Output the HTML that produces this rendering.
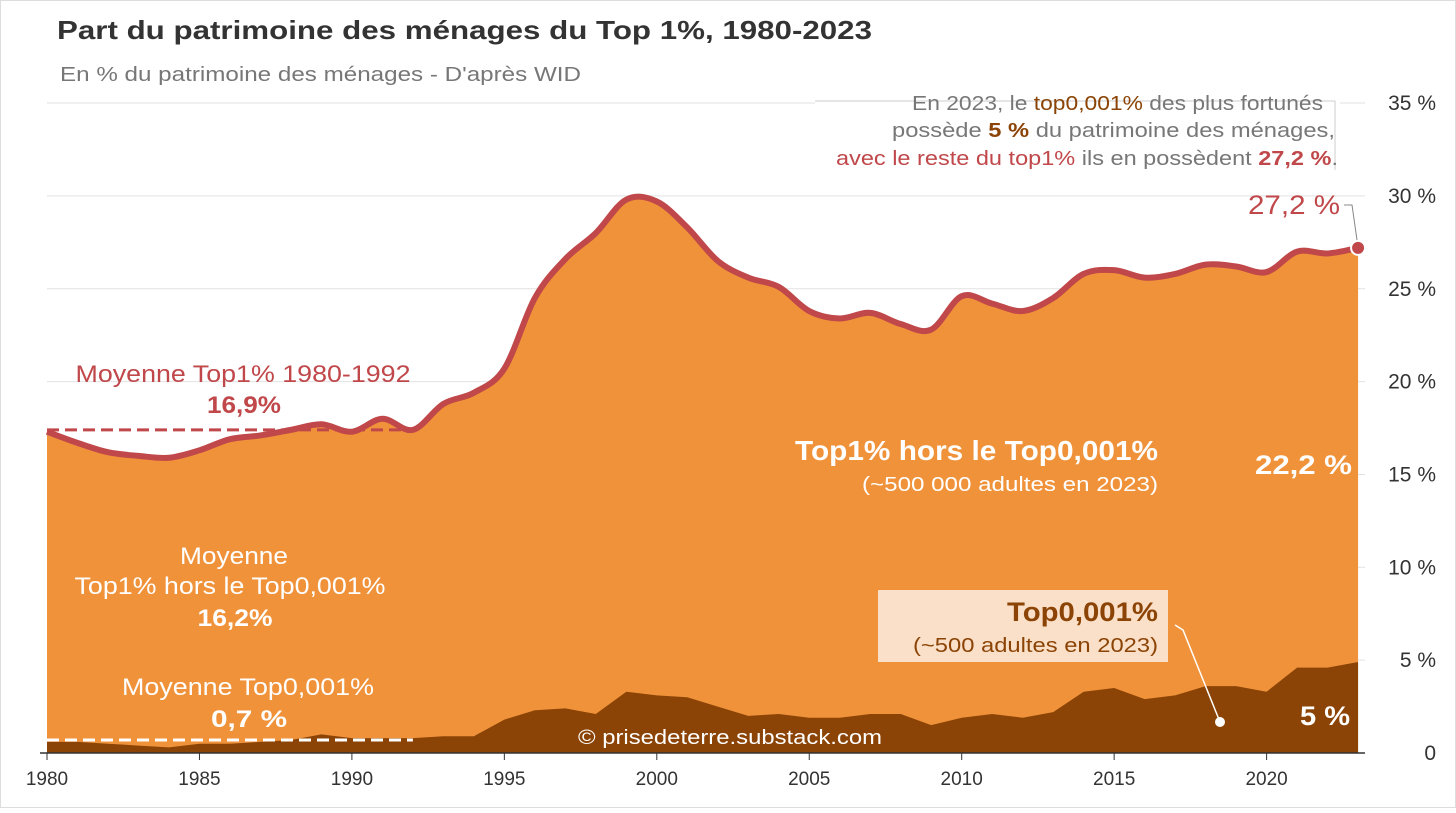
<!DOCTYPE html>
<html><head><meta charset="utf-8">
<style>
html,body{margin:0;padding:0;background:#fff;}
body{width:1456px;height:808px;overflow:hidden;font-family:"Liberation Sans",sans-serif;}
svg text{font-family:"Liberation Sans",sans-serif;}
</style></head>
<body>
<svg id="chart" width="1456" height="808">
<rect x="0.5" y="0.5" width="1455" height="807" fill="#fff" stroke="#ddd"/>
<text x="57" y="39" font-size="26" font-weight="bold" fill="#333" textLength="815" lengthAdjust="spacingAndGlyphs">Part du patrimoine des ménages du Top 1%, 1980-2023</text>
<text x="60" y="81" font-size="20" fill="#777" textLength="521" lengthAdjust="spacingAndGlyphs">En % du patrimoine des ménages - D'après WID</text>
<g id="grid"></g>
<g id="areas"></g>
<g id="axes"></g>
<g id="ann"></g>
</svg>
<script>
const years = [1980,1981,1982,1983,1984,1985,1986,1987,1988,1989,1990,1991,1992,1993,1994,1995,1996,1997,1998,1999,2000,2001,2002,2003,2004,2005,2006,2007,2008,2009,2010,2011,2012,2013,2014,2015,2016,2017,2018,2019,2020,2021,2022,2023];
const top1 = [17.3,16.7,16.2,16.0,15.9,16.3,16.9,17.1,17.4,17.7,17.3,18.0,17.4,18.8,19.4,20.7,24.5,26.6,28.0,29.8,29.7,28.3,26.5,25.6,25.1,23.8,23.4,23.7,23.1,22.8,24.6,24.2,23.8,24.5,25.8,26.0,25.6,25.8,26.3,26.2,25.9,27.0,26.9,27.2];
const top0001 = [0.6,0.6,0.5,0.4,0.3,0.5,0.5,0.6,0.7,1.0,0.8,0.8,0.8,0.9,0.9,1.8,2.3,2.4,2.1,3.3,3.1,3.0,2.5,2.0,2.1,1.9,1.9,2.1,2.1,1.5,1.9,2.1,1.9,2.2,3.3,3.5,2.9,3.1,3.6,3.6,3.3,4.6,4.6,4.9];
const yTicks = [0,5,10,15,20,25,30,35];
const xTicks = [1980,1985,1990,1995,2000,2005,2010,2015,2020];
const avgTop1 = 17.4, avgTop0001 = 0.7;

const NS="http://www.w3.org/2000/svg";
const X = y => 47 + (y-1980)*30.49;
const Y = v => 753 - v*18.57;
function mk(tag, attrs, parent, txt){const e=document.createElementNS(NS,tag);for(const k in attrs)e.setAttribute(k,attrs[k]);if(txt!==undefined)e.textContent=txt;document.getElementById(parent).appendChild(e);return e;}

yTicks.forEach(t=>{
  if(t>0){const g=mk('line',{x1:47,x2:1365,y1:Y(t),y2:Y(t),stroke:'#e2e2e2','stroke-width':1},'grid');
  
  }
  const l=mk('text',{x:1436,y:Y(t)+7,'font-size':21,'text-anchor':'end',fill:'#333'},'axes',t===0?'0':t+' %');
  
  
});
xTicks.forEach(t=>{
  const l=mk('text',{x:X(t),y:785,'font-size':19,'text-anchor':'middle',fill:'#333'},'axes',String(t));
  
  
  const tk=mk('line',{x1:X(t),x2:X(t),y1:753,y2:760,stroke:'#333'},'axes');
  
  
});
const ax=mk('line',{x1:40,x2:1365,y1:753,y2:753,stroke:'#333','stroke-width':1.5},'axes');



const pts = years.map((y,i)=>[X(y),Y(top1[i])]);
function smooth(p){let d=`M${p[0][0]},${p[0][1]}`;for(let i=0;i<p.length-1;i++){const p0=p[i-1]||p[i],p1=p[i],p2=p[i+1],p3=p[i+2]||p2;
 d+=` C${p1[0]+(p2[0]-p0[0])/6},${p1[1]+(p2[1]-p0[1])/6} ${p2[0]-(p3[0]-p1[0])/6},${p2[1]-(p3[1]-p1[1])/6} ${p2[0]},${p2[1]}`;}return d;}
const line=smooth(pts);
const a1=mk('path',{d:line+` L${X(2023)},753 L${X(1980)},753 Z`,fill:'#f0923a'},'areas');


let d2=`M${X(1980)},753`;years.forEach((y,i)=>d2+=` L${X(y)},${Y(top0001[i])}`);d2+=` L${X(2023)},753 Z`;
const a2=mk('path',{d:d2,fill:'#8b4406'},'areas');


const ln=mk('path',{d:line,fill:'none',stroke:'#c0474a','stroke-width':6,'stroke-linejoin':'round'},'areas');


const dot=mk('circle',{cx:X(2023),cy:Y(top1[43]),r:7,fill:'#c0474a',stroke:'#fff','stroke-width':2},'areas');



const av1=mk('line',{x1:X(1980),x2:X(1992),y1:Y(avgTop1),y2:Y(avgTop1),stroke:'#c0474a','stroke-width':3,'stroke-dasharray':'12 6'},'ann');


const av2=mk('line',{x1:X(1980),x2:X(1992),y1:Y(avgTop0001),y2:Y(avgTop0001),stroke:'#fff','stroke-width':3,'stroke-dasharray':'12 6'},'ann');


</script>
<svg width="1456" height="808" style="position:absolute;left:0;top:0">
<text x="243" y="382" font-size="24" fill="#c0474a" text-anchor="middle" textLength="335" lengthAdjust="spacingAndGlyphs">Moyenne Top1% 1980-1992</text>
<text x="244" y="413" font-size="24" font-weight="bold" fill="#c0474a" text-anchor="middle" textLength="74" lengthAdjust="spacingAndGlyphs">16,9%</text>
<text x="234" y="564" font-size="24" fill="#fff" text-anchor="middle" textLength="108" lengthAdjust="spacingAndGlyphs">Moyenne</text>
<text x="230" y="594" font-size="24" fill="#fff" text-anchor="middle" textLength="311" lengthAdjust="spacingAndGlyphs">Top1% hors le Top0,001%</text>
<text x="235" y="626" font-size="24" font-weight="bold" fill="#fff" text-anchor="middle" textLength="75" lengthAdjust="spacingAndGlyphs">16,2%</text>
<text x="248" y="695" font-size="24" fill="#fff" text-anchor="middle" textLength="252" lengthAdjust="spacingAndGlyphs">Moyenne Top0,001%</text>
<text x="249" y="727" font-size="24" font-weight="bold" fill="#fff" text-anchor="middle" textLength="76" lengthAdjust="spacingAndGlyphs">0,7 %</text>
<text x="1158" y="460" font-size="28" font-weight="bold" fill="#fff" text-anchor="end" textLength="363" lengthAdjust="spacingAndGlyphs">Top1% hors le Top0,001%</text>
<text x="1158" y="491" font-size="20" fill="#fff" text-anchor="end" textLength="296" lengthAdjust="spacingAndGlyphs">(~500 000 adultes en 2023)</text>
<text x="1352" y="474" font-size="27" font-weight="bold" fill="#fff" text-anchor="end" textLength="97" lengthAdjust="spacingAndGlyphs">22,2 %</text>
<rect x="878" y="590" width="290" height="72" fill="#fae0c8"/>
<text x="1158" y="621" font-size="27" font-weight="bold" fill="#8b4406" text-anchor="end" textLength="151" lengthAdjust="spacingAndGlyphs">Top0,001%</text>
<text x="1158" y="652" font-size="20" fill="#8b4406" text-anchor="end" textLength="245" lengthAdjust="spacingAndGlyphs">(~500 adultes en 2023)</text>
<polyline points="1175,625 1183,630 1220,722" fill="none" stroke="#fff" stroke-width="1.5"/>
<circle cx="1220" cy="722" r="5" fill="#fff"/>
<text x="1350" y="725" font-size="27" font-weight="bold" fill="#fff" text-anchor="end" textLength="50" lengthAdjust="spacingAndGlyphs">5 %</text>
<text x="730" y="744" font-size="20" fill="#fff" text-anchor="middle" textLength="304" lengthAdjust="spacingAndGlyphs">© prisedeterre.substack.com</text>
<text x="1340" y="214" font-size="27" fill="#c0474a" text-anchor="end" textLength="92" lengthAdjust="spacingAndGlyphs">27,2 %</text>
<polyline points="1344,205 1352,205 1357,240" fill="none" stroke="#888" stroke-width="1"/>
<rect x="815" y="88" width="525" height="88" fill="#fff"/>
<polyline points="815,101 1335,101 1335,170" fill="none" stroke="#ccc" stroke-width="1"/>
<text x="1323" y="110" font-size="20" fill="#777" text-anchor="end" textLength="411" lengthAdjust="spacingAndGlyphs">En 2023, le <tspan fill="#8b4406">top0,001%</tspan> des plus fortunés</text>
<text x="1335" y="137" font-size="20" fill="#777" text-anchor="end" textLength="443" lengthAdjust="spacingAndGlyphs">possède <tspan fill="#8b4406" font-weight="bold">5 %</tspan> du patrimoine des ménages,</text>
<text x="1338" y="165" font-size="20" fill="#c0474a" text-anchor="end" textLength="502" lengthAdjust="spacingAndGlyphs">avec le reste du top1% <tspan fill="#777">ils en possèdent</tspan> <tspan font-weight="bold">27,2 %</tspan><tspan fill="#777">.</tspan></text>
</svg>
</body></html>
